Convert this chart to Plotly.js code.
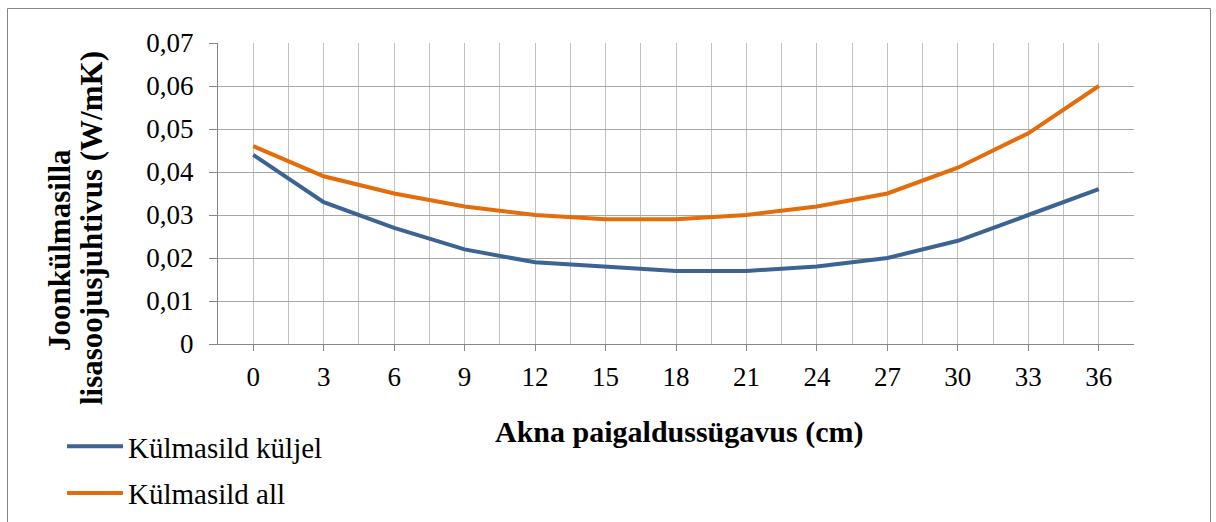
<!DOCTYPE html>
<html>
<head>
<meta charset="utf-8">
<script src="https://cdn.plot.ly/plotly-3.0.1.min.js"></script>
<style>
html,body{margin:0;padding:0;background:#fff;}
#chart{width:1216px;height:522px;}
</style>
</head>
<body>
<div id="chart"></div>
<script>
// Data
var depths = [0, 3, 6, 9, 12, 15, 18, 21, 24, 27, 30, 33, 36];
var kuljel = [0.044, 0.033, 0.027, 0.022, 0.019, 0.018, 0.017, 0.017, 0.018, 0.020, 0.024, 0.030, 0.036];
var all = [0.046, 0.039, 0.035, 0.032, 0.030, 0.029, 0.029, 0.030, 0.032, 0.035, 0.041, 0.049, 0.060];
var seriesNames = ["Külmasild küljel", "Külmasild all"];
var yTickVals = [0, 0.01, 0.02, 0.03, 0.04, 0.05, 0.06, 0.07];
var yTickText = ["0", "0,01", "0,02", "0,03", "0,04", "0,05", "0,06", "0,07"];
var xTitle = "Akna paigaldussügavus (cm)";
var yTitle1 = "Joonkülmasilla";
var yTitle2 = "lisasoojusjuhtivus (W/mK)";

var L = 218, R = 82, T = 43, B = 178;
var W = 1216, H = 522;
var pw = W - L - R, ph = H - T - B;
function px2x(p){ return (p - L) / pw; }
function py2y(p){ return (H - B - p) / ph; }

var font = "Liberation Serif, Times New Roman, serif";

var traces = [
  {x: depths, y: kuljel, name: seriesNames[0], type: "scatter", mode: "lines",
   line: {color: "#3b6394", width: 4}, legendgroup: "a"},
  {x: depths, y: all, name: seriesNames[1], type: "scatter", mode: "lines",
   line: {color: "#e46c0a", width: 4}, legendgroup: "b"}
];

var layout = {
  width: W, height: H,
  margin: {l: L, r: R, t: T, b: B, pad: 0, autoexpand: false},
  paper_bgcolor: "#ffffff", plot_bgcolor: "#ffffff",
  font: {family: font, size: 27, color: "#000"},
  showlegend: true,
  legend: {
    xref: "container", yref: "container",
    x: 62 / W, y: 1 - 421 / H, xanchor: "left", yanchor: "top",
    font: {family: font, size: 29, color: "#000"},
    traceorder: "grouped", tracegroupgap: 6, itemwidth: 56,
    bgcolor: "rgba(0,0,0,0)"
  },
  xaxis: {
    range: [-1.5, 37.5], tick0: 0, dtick: 3, tickmode: "linear",
    showgrid: true, gridcolor: "#c0c0c0", gridwidth: 1,
    minor: {dtick: 1.5, tick0: 0, showgrid: true, gridcolor: "#c0c0c0", gridwidth: 1},
    showline: true, linecolor: "#868686", linewidth: 1,
    ticks: "outside", ticklen: 6, tickcolor: "#868686",
    ticklabelstandoff: 3,
    zeroline: false, fixedrange: true,
    tickfont: {family: font, size: 27}
  },
  yaxis: {
    range: [0, 0.07], tickmode: "array", tickvals: yTickVals, ticktext: yTickText,
    showgrid: true, gridcolor: "#a6a6a6", gridwidth: 1,
    showline: true, linecolor: "#868686", linewidth: 1,
    ticks: "outside", ticklen: 8, tickcolor: "#868686",
    ticklabelstandoff: 10,
    zeroline: false, fixedrange: true,
    tickfont: {family: font, size: 27}
  },
  annotations: [
    {text: "<b>" + xTitle + "</b>", xref: "paper", yref: "paper",
     x: px2x(679), y: py2y(432), xanchor: "center", yanchor: "middle",
     showarrow: false, font: {family: font, size: 30, color: "#000"}},
    {text: "<b>" + yTitle1 + "</b>", xref: "paper", yref: "paper",
     x: px2x(59), y: py2y(250), xanchor: "center", yanchor: "middle", textangle: -90,
     showarrow: false, font: {family: font, size: 31, color: "#000"}},
    {text: "<b>" + yTitle2 + "</b>", xref: "paper", yref: "paper",
     x: px2x(92), y: py2y(228), xanchor: "center", yanchor: "middle", textangle: -90,
     showarrow: false, font: {family: font, size: 31, color: "#000"}}
  ],
  shapes: [
    {type: "rect", xref: "paper", yref: "paper",
     x0: px2x(7.5), x1: px2x(1210.5), y0: py2y(540), y1: py2y(8.5),
     line: {color: "#868686", width: 1}, fillcolor: "rgba(0,0,0,0)", layer: "below"}
  ]
};

Plotly.newPlot("chart", traces, layout, {displayModeBar: false, staticPlot: true});
</script>
</body>
</html>
